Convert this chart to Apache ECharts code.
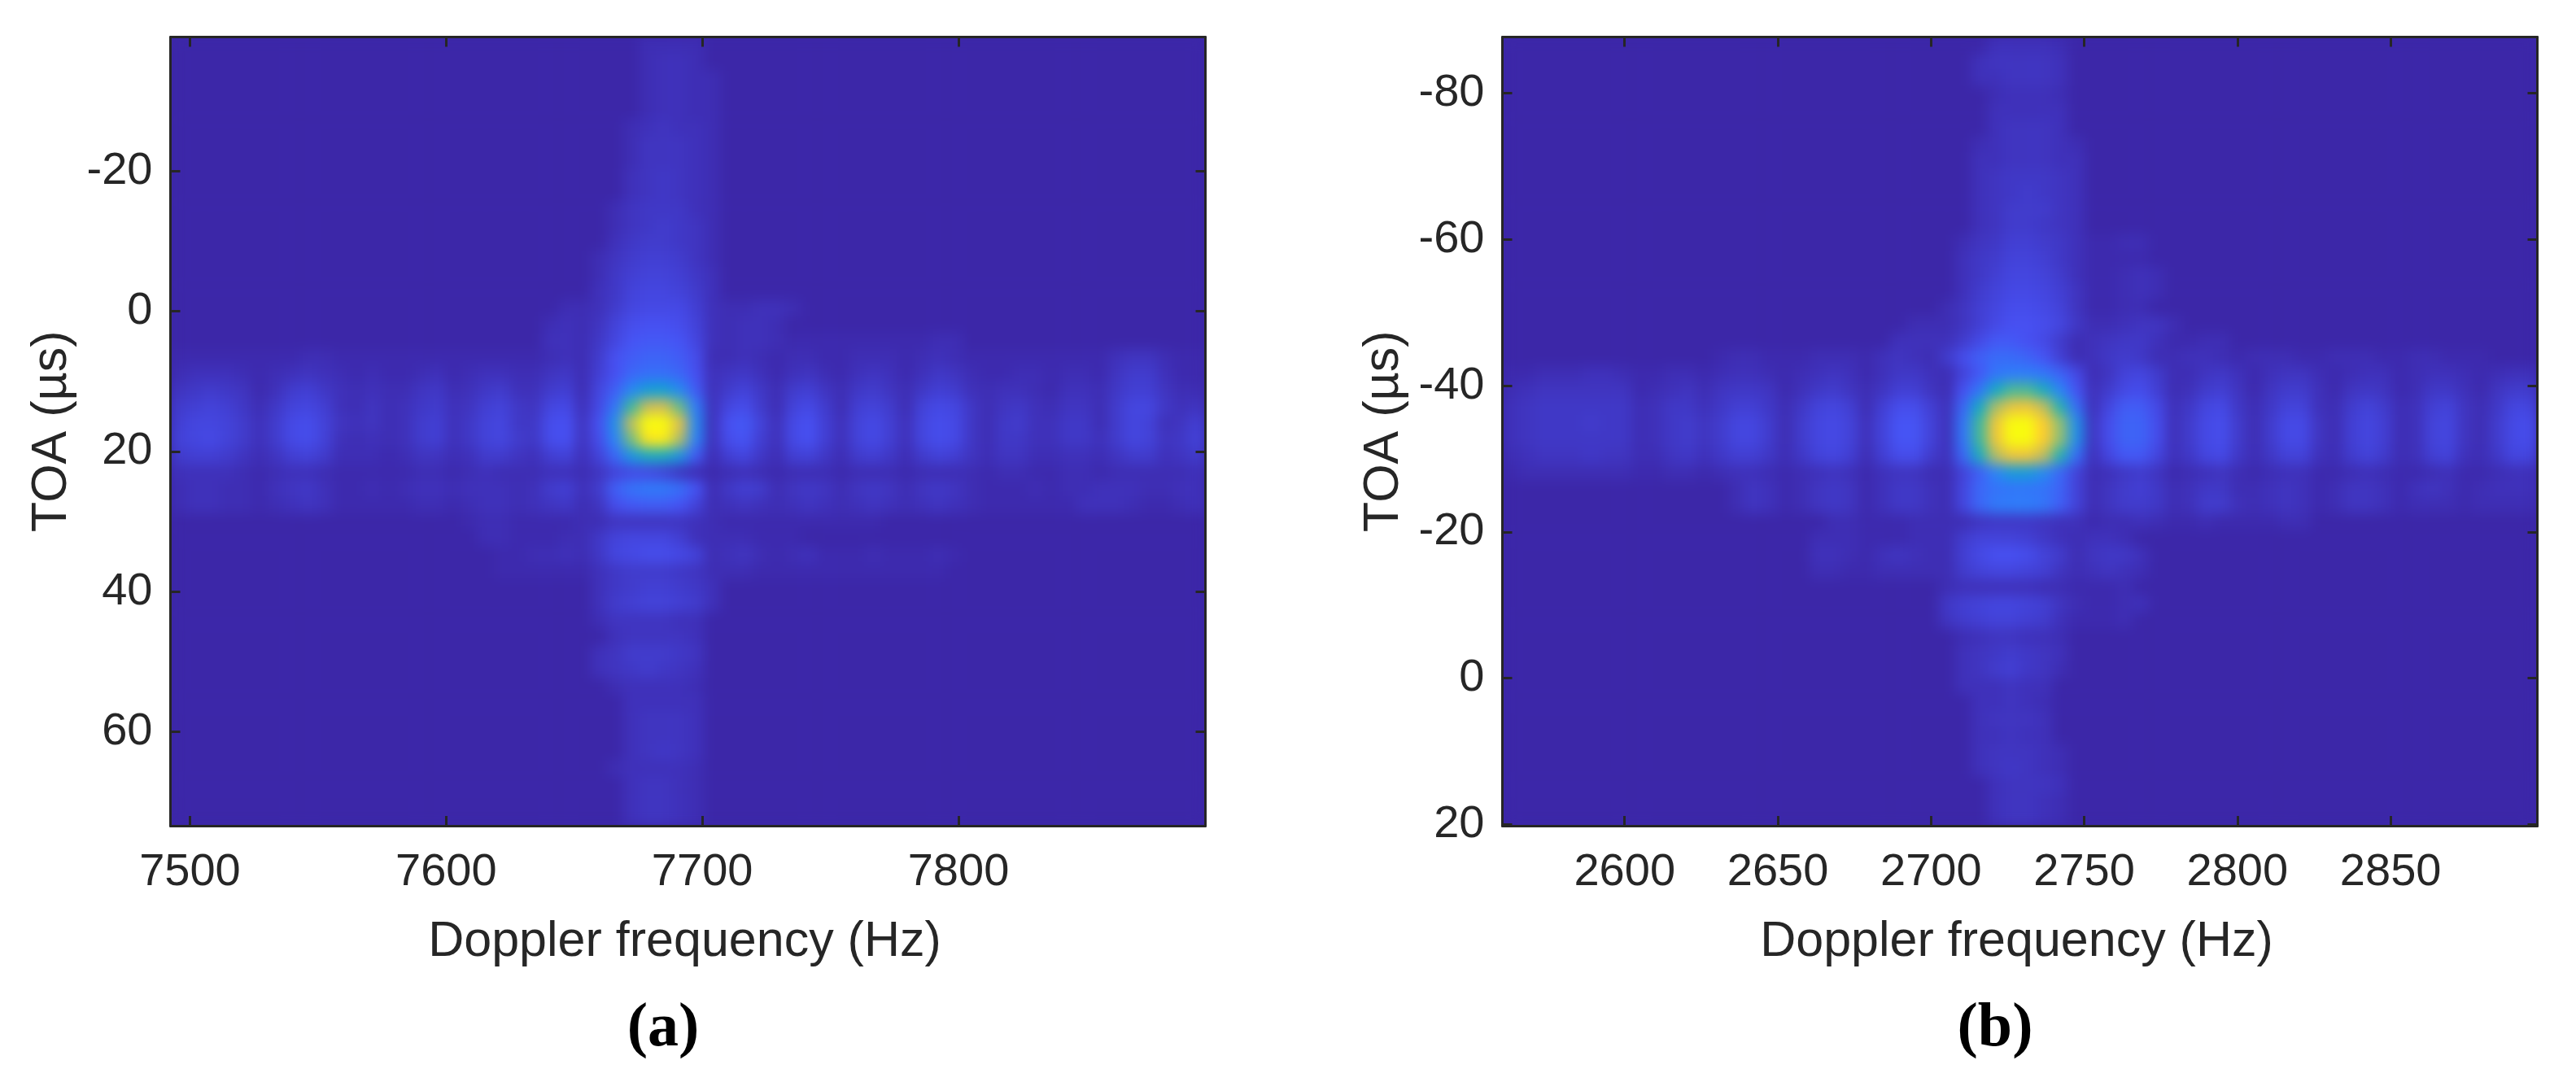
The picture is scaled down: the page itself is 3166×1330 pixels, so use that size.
<!DOCTYPE html>
<html><head><meta charset="utf-8">
<style>
html,body{margin:0;padding:0;background:#fff}
#c{width:3166px;height:1330px}
canvas[data-zr-dom-id="zr_1"]{filter:blur(8px);clip-path:path('M211 47H1480V1014H211Z M1848 47H3117V1014H1848Z')}
</style>
<script src="https://cdn.jsdelivr.net/npm/echarts@6/dist/echarts.min.js"></script>
</head><body><div id="c"></div>
<script>
// Intensity, 0 (background) .. 100 (peak). Each row: [first column, values...]
const rowsA = [
[29,2,2,2,2],[29,2,3,3,2],[29,2,3,3,2,2],[29,2,3,3,2,2],[29,2,3,3,2,2],[28,2,3,4,3,3,2],
[28,2,4,4,4,3,2],[28,2,4,4,4,3,2],[28,3,4,5,4,3,2],[28,3,4,5,4,3,2],[27,2,4,5,5,5,3,2],[27,2,4,5,6,5,4,2],
[27,3,5,6,6,5,4,2],[26,2,4,6,7,7,6,4,2],[26,2,5,7,8,8,7,5,3],[26,3,5,8,9,9,8,6,3],
[24,2,2,3,6,9,10,10,10,7,3,2,2,3,3,2],
[23,2,3,2,4,8,11,12,12,11,8,3,2,3,3,2],
[23,3,3,2,5,9,13,14,14,13,9,3,2,3,3,2,1,1,1,1,1,1,1,1,1,2,2],
[0,1,1,1,1,1,1,1,1,2,2,1,1,1,1,1,1,1,1,1,1,1,1,1,2,3,2,6,12,15,17,17,15,11,2,2,3,2,1,2,2,1,1,2,2,2,1,2,3,2,1,1,1,1,1,1,1,1,1,3,4,4,2,1,1],
[0,2,3,3,3,2,1,2,3,4,3,2,1,2,1,1,2,3,1,2,3,3,2,2,4,5,2,7,12,18,20,20,18,12,3,4,5,3,1,3,4,2,1,3,4,3,1,3,5,4,2,1,1,2,2,1,2,2,1,4,6,6,3,1,1],
[0,4,5,6,5,4,1,3,6,7,5,3,2,3,2,2,4,5,2,3,5,6,3,3,6,7,2,9,16,27,35,36,28,15,3,6,8,5,2,6,7,4,2,5,6,4,2,5,7,6,3,2,3,3,2,1,3,3,2,5,7,7,4,2,2],
[0,6,7,8,7,5,2,5,8,9,7,3,2,4,2,3,5,6,3,4,7,8,5,4,9,10,3,10,22,52,74,76,58,24,3,9,11,6,2,8,10,6,2,7,8,6,2,8,10,9,5,2,4,5,3,2,4,4,2,6,9,9,5,3,4],
[0,7,9,9,8,6,3,6,10,11,8,4,3,4,2,3,6,7,3,5,8,9,5,5,11,12,4,12,30,72,100,100,80,28,3,12,14,8,3,10,12,7,3,8,10,7,3,9,11,10,5,2,5,6,3,3,5,5,2,6,9,8,3,4,7],
[0,8,9,10,8,6,3,6,10,11,8,3,2,3,2,3,6,7,3,5,8,9,6,5,11,12,4,11,26,60,94,96,70,26,3,11,13,7,3,10,12,7,3,8,10,7,3,9,11,10,5,2,5,5,3,3,5,5,3,6,9,8,4,5,8],
[0,6,7,7,6,4,2,4,7,8,6,2,2,2,1,2,4,4,2,3,6,6,4,3,7,8,3,8,18,32,42,42,32,15,2,7,9,5,2,7,8,5,2,6,7,5,2,6,8,7,4,2,4,4,2,2,3,3,2,4,6,6,3,4,6],
[0,3,3,3,3,2,1,2,3,3,2,1,1,1,1,1,2,2,1,2,3,2,2,2,3,3,2,4,8,10,10,8,4,2,1,2,3,2,1,2,2,2,1,2,2,2,1,2,2,2,2,1,2,2,1,1,2,2,1,2,2,2,2,2,3],
[0,2,3,3,2,2,1,3,4,5,3,1,1,2,1,2,3,3,2,3,3,3,2,3,6,7,3,6,16,21,23,23,20,13,2,5,7,6,2,4,5,4,2,4,5,4,2,4,5,4,2,1,1,1,2,1,2,2,3,3,3,2,2,3,3],
[0,2,3,3,2,2,1,2,3,4,3,1,1,1,1,1,2,2,1,2,3,3,2,3,4,5,2,4,11,14,15,15,13,8,2,3,4,3,2,3,4,3,2,3,4,3,2,3,4,3,2,1,1,1,1,1,1,3,3,3,2,1,1,2,3],
[18,1,2,2,1,1,1,1,2,2,4,4,4,4,4,3,2,1,1,1,1,1,1,1,1,1,1],
[19,2,2,1,1,1,2,2,5,8,9,9,9,7,3,2,2,2,1,1,1],
[20,1,1,2,2,3,2,5,9,10,11,11,10,8,2,3,4,2,1,2,3,1,1,1,2,1,1,1,2,1],
[20,1,1,1,1,1,1,3,5,6,6,6,5,4,2,2,2,1,1,1,1,1,1,1,1,1,1,1,1],
[26,3,5,6,7,7,6,5,3],[26,3,6,7,8,8,7,6,3],[26,2,4,4,4,4,3,3],[27,3,4,4,4,4,3],[26,3,4,6,6,6,5,4],[26,3,4,5,6,5,4,3],
[27,2,3,3,3,3,2],[28,3,3,3,3,3],[28,3,4,4,4,3],[28,3,4,4,4,3],[28,3,4,5,4,3],[27,2,3,3,3,3,2],[28,3,4,4,3,2],[28,3,4,4,3,2],[28,3,4,4,3,2]
];
const rowsB = [
[30,3,3,3,3,2],[29,3,4,4,4,4,3],[29,3,3,4,4,4,3],[30,2,3,3,3,2],[30,3,3,3,3,3],[30,3,4,4,4,3],[29,2,3,4,4,4,3,2],[29,3,3,4,4,4,3,3],
[29,3,4,5,5,5,4,3],[29,3,4,5,6,5,4,3],[29,3,4,6,6,6,4,3],[29,3,4,6,6,5,4,3],
[28,2,4,5,7,7,6,5,3,1,1,2,2],[28,3,5,6,8,8,7,5,3,1,1,1,1],[28,3,5,7,9,9,8,6,3,1,1,2,3,2],[28,3,6,8,10,10,9,7,4,1,1,2,3,2],
[27,2,4,7,9,11,11,10,8,4,1,1,2,2],
[25,2,2,2,4,7,10,12,12,11,9,5,2,2,3,4,4,2],
[24,3,3,3,3,6,10,14,14,12,10,6,2,3,4,5,5,3,1,1,2,2],
[13,1,2,2,1,1,1,2,2,2,1,3,4,3,2,6,11,16,19,19,17,13,7,2,3,5,6,5,2,2,3,3,2,1,2,2,2,1,1,2,2,2,1,1,2,2,1,1,1],
[0,1,1,2,2,2,3,3,2,1,1,2,2,1,2,3,3,2,1,2,3,4,3,1,3,5,5,3,2,8,14,22,24,24,22,17,10,2,4,8,9,6,2,2,4,5,3,1,3,4,4,2,1,2,3,3,1,2,3,3,2,1,2,3,3],
[0,2,3,4,4,4,4,4,4,1,2,3,4,2,4,5,5,4,1,3,5,6,4,2,4,7,7,4,2,12,22,40,54,54,42,26,13,3,6,10,11,7,2,3,6,7,4,1,4,6,6,3,1,4,5,4,1,2,5,5,3,1,4,6,6],
[0,3,4,5,5,5,5,5,5,2,3,5,5,3,5,7,7,5,2,5,8,9,7,2,7,11,11,7,3,18,40,68,82,84,72,46,20,3,9,15,15,10,3,5,9,10,5,2,5,8,8,3,2,6,8,6,2,3,7,8,4,2,5,9,9],
[0,3,4,5,5,5,6,5,5,2,3,5,6,4,6,9,9,6,2,6,9,10,8,3,8,13,13,8,3,22,52,84,100,100,88,64,30,4,11,17,17,11,3,6,10,11,6,2,6,10,10,4,2,7,9,7,2,3,8,9,4,2,6,10,11],
[0,3,4,5,5,5,5,5,5,2,3,5,6,4,6,9,9,6,2,6,9,10,8,3,8,13,13,8,3,22,52,84,100,100,88,64,30,4,11,17,17,11,3,6,10,11,6,2,6,10,10,4,2,7,9,7,2,3,8,9,4,2,6,10,11],
[0,2,3,4,4,4,5,4,4,2,2,4,5,3,5,7,7,5,2,5,8,9,7,2,7,11,11,6,3,18,42,70,84,84,72,46,20,3,9,14,14,9,3,5,9,10,5,2,5,8,8,3,2,6,8,6,2,3,7,8,3,2,5,9,9],
[0,1,2,2,2,2,2,2,2,1,1,2,2,1,2,3,3,2,1,2,3,4,3,1,3,4,4,2,2,8,16,26,34,34,28,18,8,2,3,5,6,4,1,2,3,4,2,1,2,3,3,1,1,2,3,2,1,1,2,3,1,1,2,3,3],
[14,2,4,3,1,2,4,5,4,1,3,5,5,3,2,9,18,21,22,22,21,17,8,2,4,6,7,5,2,3,5,5,2,2,3,4,3,1,2,4,4,3,1,3,4,3,1,2,3,3,3],
[14,2,4,3,1,2,4,5,4,1,3,5,5,3,2,9,18,23,24,24,22,16,8,2,4,6,6,5,2,3,6,6,3,2,3,4,3,1,2,4,4,3,1,2,2,2,1,2,2,2,2],
[20,2,2,1,1,1,2,2,2,2,4,5,5,5,4,3,3,1,2,2,3,2,1,1,2,1,1,1,1,2,2],
[19,2,2,2,1,1,1,2,2,2,6,8,8,8,7,5,3,2,3,3,2],
[19,3,3,2,1,3,4,3,2,2,7,10,12,12,11,8,6,2,4,5,5,3],
[19,2,2,1,1,2,2,2,2,2,6,8,9,9,8,7,4,2,3,4,3,2],
[27,2,3,3,3,3,3,2,2,1,1,1,2],
[27,5,7,8,9,9,8,7,4,2,1,1,2,3],
[27,4,6,7,8,8,7,6,3,1,1,1,2],
[28,2,3,4,4,3,3,2],[28,3,4,5,6,5,4,3],[28,3,4,6,7,5,4,2],[28,3,3,3,4,3,3],[29,3,3,4,3,2],[29,3,4,4,4,3],[29,3,3,4,3,3],[29,3,4,4,4,3,2],[29,3,4,5,4,3,2],[30,3,4,4,4,3],[30,3,4,4,3,2],[30,3,4,4,3,2]
];
const columnCount = 64;
const xTicksA = [7500,7600,7700,7800];
const yTicksA = [-20,0,20,40,60];
const xTicksB = [2600,2650,2700,2750,2800,2850];
const yTicksB = [-80,-60,-40,-20,0,20];
const xRangeA = [7492.4,7896.4], yRangeA = [-39.1,73.4];
const xRangeB = [2560.1,2897.9], yRangeB = [-87.7,20.2];
const xName = 'Doppler frequency (Hz)', yName = 'TOA (µs)';
const parula = ['#3c27a8','#4752f4','#2d82fa','#0ea5d0','#2eb7a4','#87bf77','#d1bb59','#fec832','#f9fb0e'];
const ink = '#262626';

function cells(rows){
  const out = [];
  rows.forEach((row,i)=>{
    for(let j=0;j<columnCount;j++){
      const k = j-row[0]+1;
      out.push([j,i,(k>=1 && k<row.length)?row[k]:0]);
    }
  });
  return out;
}
function valAxis(grid,range,ticks,pos,dir,labels,name){
  const a = {type:'value',gridIndex:grid,position:pos,min:range[0],max:range[1],zlevel:2,
    axisLine:{show:true,onZero:false,lineStyle:{color:ink,width:3}},
    axisTick:{show:true,inside:true,length:12,customValues:ticks,lineStyle:{color:ink,width:3}},
    splitLine:{show:false},
    axisLabel:{show:labels,customValues:ticks,formatter:v=>String(v),fontFamily:'Liberation Sans',fontSize:56,color:ink,margin:dir==='x'?30:22,padding:dir==='y'?[10,0,0,0]:0,hideOverlap:false,showMinLabel:true,showMaxLabel:true}};
  if(dir==='y') a.inverse = true;
  if(name){
    a.name=name; a.nameLocation='middle'; a.nameGap=dir==='x'?113:115;
    a.nameTextStyle={fontFamily:'Liberation Sans',fontSize:61,color:ink,padding:dir==='x'?[0,8,0,0]:0};
  }
  return a;
}
function catAxis(grid,n){
  return {type:'category',gridIndex:grid,show:false,data:Array.from({length:n},(_,k)=>k)};
}
const grids = [
  {left:209.5,right:3166-1481.5,top:45.5,bottom:1330-1015,show:true,backgroundColor:parula[0],borderWidth:0},
  {left:1846.5,right:3166-3118.5,top:45.5,bottom:1330-1015,show:true,backgroundColor:parula[0],borderWidth:0}
];
const option = {
  animation:false,
  title:[
    {text:'(a)',left:810,top:1222,textAlign:'center',zlevel:2,textStyle:{fontFamily:'Liberation Serif',fontWeight:'bold',fontSize:76,color:'#000'}},
    {text:'(b)',left:2447,top:1222,textAlign:'center',zlevel:2,textStyle:{fontFamily:'Liberation Serif',fontWeight:'bold',fontSize:76,color:'#000'}}
  ],
  grid:grids,
  visualMap:{show:false,type:'continuous',min:0,max:100,dimension:2,seriesIndex:[0,1],inRange:{color:parula}},
  xAxis:[
    catAxis(0,columnCount),
    valAxis(0,xRangeA,xTicksA,'bottom','x',true,xName),
    valAxis(0,xRangeA,xTicksA,'top','x',false),
    catAxis(1,columnCount),
    valAxis(1,xRangeB,xTicksB,'bottom','x',true,xName),
    valAxis(1,xRangeB,xTicksB,'top','x',false)
  ],
  yAxis:[
    Object.assign(catAxis(0,rowsA.length),{inverse:true}),
    valAxis(0,yRangeA,yTicksA,'left','y',true,yName),
    valAxis(0,yRangeA,yTicksA,'right','y',false),
    Object.assign(catAxis(1,rowsB.length),{inverse:true}),
    valAxis(1,yRangeB,yTicksB,'left','y',true,yName),
    valAxis(1,yRangeB,yTicksB,'right','y',false)
  ],
  series:[
    {type:'heatmap',xAxisIndex:0,yAxisIndex:0,data:cells(rowsA),zlevel:1,progressive:0,silent:true,emphasis:{disabled:true}},
    {type:'heatmap',xAxisIndex:3,yAxisIndex:3,data:cells(rowsB),zlevel:1,progressive:0,silent:true,emphasis:{disabled:true}}
  ]
};
const chart = echarts.init(document.getElementById('c'),null,{renderer:'canvas',width:3166,height:1330});
chart.setOption(option);
</script>
</body></html>
